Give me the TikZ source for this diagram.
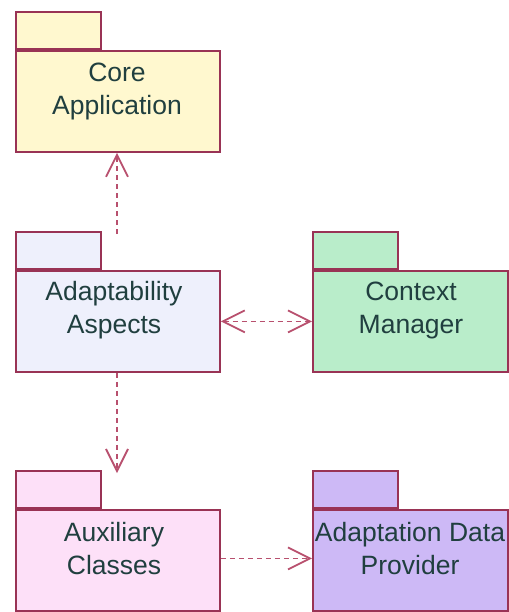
\documentclass[tikz,border=0pt]{standalone}
\usepackage{fontspec}
\setmainfont{Liberation Sans}
\usetikzlibrary{arrows.meta}
\definecolor{pkgborder}{HTML}{993355}
\definecolor{conncol}{HTML}{B8506E}
\definecolor{txtcol}{HTML}{203F3F}
\definecolor{corefill}{HTML}{FFF8CF}
\definecolor{adaptfill}{HTML}{EEF0FC}
\definecolor{ctxfill}{HTML}{B9EDCA}
\definecolor{auxfill}{HTML}{FDE0F8}
\definecolor{adpfill}{HTML}{CDB9F6}
\tikzset{
  pkgbody/.style={draw=pkgborder, line width=1.8pt, rectangle, inner sep=0pt,
    anchor=north west, minimum width=204pt, minimum height=101pt},
  pkgtab/.style={draw=pkgborder, line width=1.8pt, rectangle, inner sep=0pt,
    anchor=south west, minimum width=85pt, minimum height=37pt},
  pkgtext/.style={text=txtcol, align=center, inner sep=0pt,
    font=\fontsize{26.5}{33}\selectfont},
  dep/.style={draw=conncol, line width=1.8pt, dash pattern=on 5pt off 4pt,
    -{Straight Barb[length=22pt,width=22pt,line width=1.8pt]}},
  dep2/.style={draw=conncol, line width=1.8pt, dash pattern=on 5pt off 4pt,
    {Straight Barb[length=22pt,width=22pt,line width=1.8pt]}-{Straight Barb[length=22pt,width=22pt,line width=1.8pt]}},
}
\begin{document}
\begin{tikzpicture}[x=1pt,y=-1pt]
\useasboundingbox (0,0) rectangle (508,612);
% Core Application
\node[pkgbody, fill=corefill] (core) at (15,50) {};
\node[pkgtab, fill=corefill] (coretab) at (core.north west) {};
\node[pkgtext] (coretext) at (117,91) {Core\\Application};
% Adaptability Aspects
\node[pkgbody, fill=adaptfill] (adapt) at (15,270) {};
\node[pkgtab, fill=adaptfill] (adapttab) at (adapt.north west) {};
\node[pkgtext] (adapttext) at (114,310) {Adaptability\\Aspects};
% Context Manager
\node[pkgbody, fill=ctxfill, minimum width=195pt] (ctx) at (312,270) {};
\node[pkgtab, fill=ctxfill] (ctxtab) at (ctx.north west) {};
\node[pkgtext] (ctxtext) at (411,310) {Context\\Manager};
% Auxiliary Classes
\node[pkgbody, fill=auxfill] (aux) at (15,509) {};
\node[pkgtab, fill=auxfill] (auxtab) at (aux.north west) {};
\node[pkgtext] (auxtext) at (114,549) {Auxiliary\\Classes};
% Adaptation Data Provider
\node[pkgbody, fill=adpfill, minimum width=195pt] (adp) at (312,509) {};
\node[pkgtab, fill=adpfill] (adptab) at (adp.north west) {};
\node[pkgtext] (adptext) at (410,549) {Adaptation Data\\Provider};
% connectors
\coordinate (upstart) at (117,234);
\coordinate (downend) at (117,473);
\draw[dep] (upstart) -- (core.south -| upstart);
\draw[dep] (adapt.south -| downend) -- (downend);
\draw[dep2] (adapt.east) -- (ctx.west);
\draw[dep] ([yshift=2pt]aux.east) -- ([yshift=2pt]adp.west);
\end{tikzpicture}
\end{document}
